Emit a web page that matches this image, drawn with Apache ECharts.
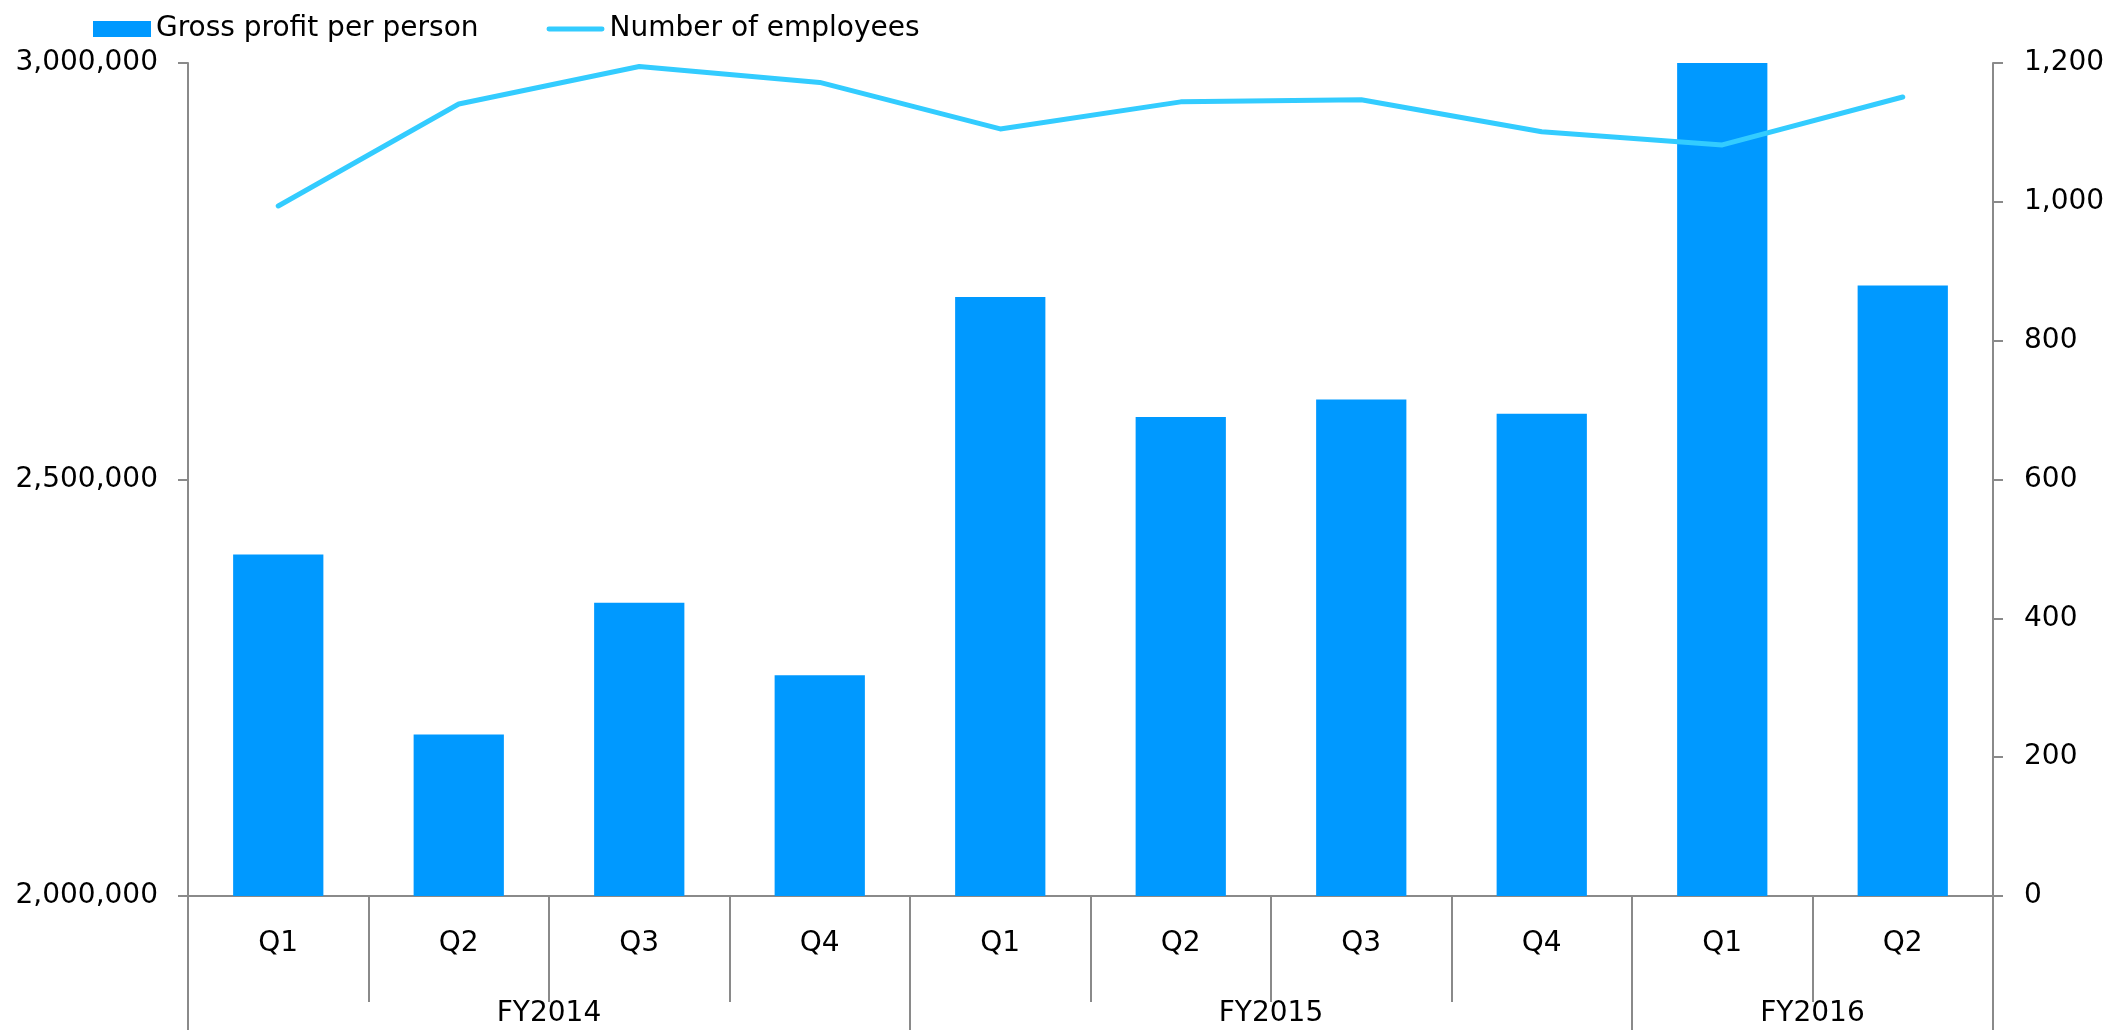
<!DOCTYPE html>
<html>
<head>
<meta charset="utf-8">
<title>Gross profit per person and number of employees</title>
<script src="https://cdn.jsdelivr.net/npm/echarts@6/dist/echarts.min.js"></script>
<style>
  html, body { margin: 0; padding: 0; background: #ffffff; }
  #chart { width: 2109px; height: 1030px; }
</style>
</head>
<body>
<div id="chart"></div>
<script>
// Quarterly categories, grouped by fiscal year
const quarters = ['Q1', 'Q2', 'Q3', 'Q4', 'Q1', 'Q2', 'Q3', 'Q4', 'Q1', 'Q2'];
const fiscalYears = ['FY2014', 'FY2015', 'FY2016'];
const quartersPerYear = [4, 4, 2];

// Series values
const grossProfitPerPerson = [2410000, 2194000, 2352000, 2265000, 2719000, 2575000, 2596000, 2579000, 3000000, 2733000];
const employees = [994, 1141, 1195, 1172, 1105, 1144, 1147, 1101, 1082, 1151];

// Axis ranges
const leftTicks = [2000000, 2500000, 3000000];
const rightTicks = [0, 200, 400, 600, 800, 1000, 1200];

// Fiscal-year group boundaries and centres on a 0..N scale
const yearBounds = [0];
quartersPerYear.forEach(n => yearBounds.push(yearBounds[yearBounds.length - 1] + n));
const yearCentres = quartersPerYear.map((n, i) => yearBounds[i] + n / 2);

const FONT = 'DejaVu Sans';
const FONT_SIZE = 28;
const AXIS_GREY = '#8a8a8a';
const TEXT = '#000000';
const BAR_BLUE = '#0099ff';
const LINE_BLUE = '#33ccff';

// Thick rounded stroke used as the legend marker of the line series
const LINE_ICON = 'path://M2.5,0 H57.5 A2.5,2.5 0 0 1 57.5,5 H2.5 A2.5,2.5 0 0 1 2.5,0 Z';

const chart = echarts.init(document.getElementById('chart'), null, { renderer: 'canvas' });

chart.setOption({
  animation: false,
  backgroundColor: '#ffffff',
  textStyle: { fontFamily: FONT },
  legend: {
    left: 88,
    top: 10,
    itemWidth: 58,
    itemHeight: 16,
    itemGap: 68,
    symbolKeepAspect: true,
    textStyle: { fontFamily: FONT, fontSize: FONT_SIZE, color: TEXT },
    data: [
      { name: 'Gross profit per person', icon: 'rect', itemStyle: { color: BAR_BLUE } },
      { name: 'Number of employees', icon: LINE_ICON, itemStyle: { color: LINE_BLUE } }
    ]
  },
  grid: { left: 188, right: 116, top: 63, bottom: 134 },
  xAxis: [
    {
      type: 'category',
      data: quarters,
      boundaryGap: true,
      axisLine: { show: true, lineStyle: { color: AXIS_GREY, width: 2 } },
      axisTick: { show: true, interval: 0, length: 106, lineStyle: { color: AXIS_GREY, width: 2 } },
      axisLabel: { interval: 0, margin: 34, fontFamily: FONT, fontSize: FONT_SIZE, lineHeight: 28, color: TEXT },
      splitLine: { show: false }
    },
    {
      type: 'value',
      position: 'bottom',
      min: 0,
      max: quarters.length,
      axisLine: { show: false },
      axisTick: {
        show: true,
        customValues: yearBounds,
        length: 134,
        lineStyle: { color: AXIS_GREY, width: 2 }
      },
      axisLabel: {
        show: true,
        customValues: yearCentres,
        margin: 104,
        fontFamily: FONT,
        fontSize: FONT_SIZE,
        lineHeight: 28,
        color: TEXT,
        formatter: v => {
          const i = yearCentres.indexOf(v);
          return i >= 0 ? fiscalYears[i] : '';
        }
      },
      splitLine: { show: false }
    }
  ],
  yAxis: [
    {
      type: 'value',
      position: 'left',
      min: leftTicks[0],
      max: leftTicks[leftTicks.length - 1],
      interval: leftTicks[1] - leftTicks[0],
      axisLine: { show: true, lineStyle: { color: AXIS_GREY, width: 2 } },
      axisTick: { show: true, length: 10, lineStyle: { color: AXIS_GREY, width: 2 } },
      axisLabel: {
        margin: 30,
        fontFamily: FONT,
        fontSize: FONT_SIZE,
        color: TEXT,
        formatter: v => v.toLocaleString('en-US')
      },
      splitLine: { show: false }
    },
    {
      type: 'value',
      position: 'right',
      min: rightTicks[0],
      max: rightTicks[rightTicks.length - 1],
      interval: rightTicks[1] - rightTicks[0],
      axisLine: { show: true, lineStyle: { color: AXIS_GREY, width: 2 } },
      axisTick: { show: true, length: 10, lineStyle: { color: AXIS_GREY, width: 2 } },
      axisLabel: {
        margin: 31,
        fontFamily: FONT,
        fontSize: FONT_SIZE,
        color: TEXT,
        formatter: v => v.toLocaleString('en-US')
      },
      splitLine: { show: false }
    }
  ],
  series: [
    {
      name: 'Gross profit per person',
      type: 'bar',
      xAxisIndex: 0,
      yAxisIndex: 0,
      barWidth: '50%',
      itemStyle: { color: BAR_BLUE },
      data: grossProfitPerPerson
    },
    {
      name: 'Number of employees',
      type: 'line',
      xAxisIndex: 0,
      yAxisIndex: 1,
      symbol: 'none',
      lineStyle: { color: LINE_BLUE, width: 5, cap: 'round', join: 'round' },
      itemStyle: { color: LINE_BLUE },
      data: employees
    }
  ]
});
</script>
</body>
</html>
